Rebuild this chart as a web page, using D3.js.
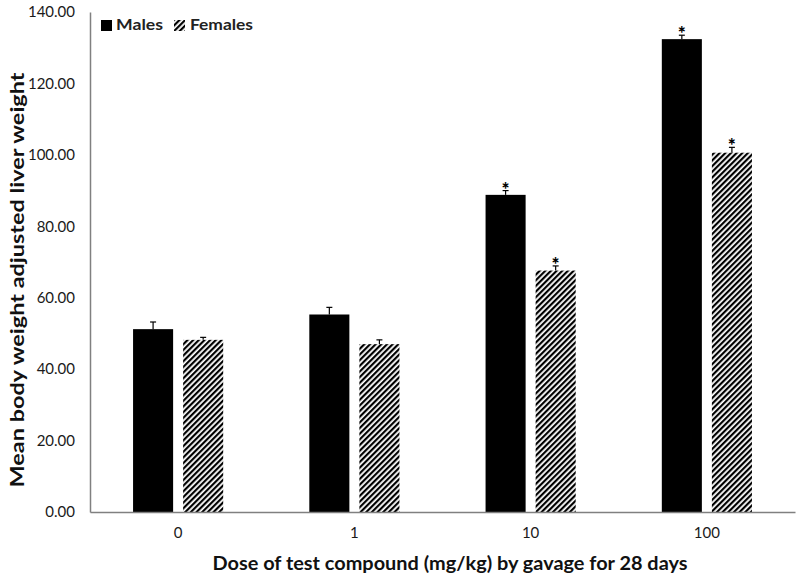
<!DOCTYPE html>
<html><head><meta charset="utf-8">
<script src="https://cdn.jsdelivr.net/npm/d3@7"></script>
<style>body{margin:0;background:#fff}</style>
</head><body>
<svg id="c" width="800" height="578"></svg>
<script>
const doses = ["0","1","10","100"];
const males = [51.2, 55.3, 88.8, 132.4];
const females = [48.2, 47.0, 67.6, 100.6];
const malesErr = [2.0, 2.0, 1.2, 1.1];
const femalesErr = [0.7, 1.2, 1.3, 1.5];
const malesSig = [false, false, true, true];
const femalesSig = [false, false, true, true];
const yTicks = [0,20,40,60,80,100,120,140];
const seriesNames = ["Males","Females"];

const svg = d3.select("#c");
const font = "Lato, 'Open Sans', sans-serif";
const mLeft = 90, mRight = 795, mTop = 12, mBottom = 512;

const defs = svg.append("defs");
const pat = defs.append("pattern").attr("id","hatch").attr("patternUnits","userSpaceOnUse")
  .attr("width",4).attr("height",6).attr("patternTransform","rotate(45)");
pat.append("rect").attr("width",4).attr("height",6).attr("fill","#fff");
pat.append("rect").attr("x",0).attr("width",2.2).attr("height",6).attr("fill","#000");

const x = d3.scaleBand().domain(doses).range([mLeft,mRight]).paddingInner(0).paddingOuter(0);
const x1 = d3.scaleBand().domain(seriesNames).range([0,x.bandwidth()]).paddingInner(0.2).paddingOuter(0.86);
const y = d3.scaleLinear().domain([0,140]).range([mBottom,mTop]);

const data = doses.map((d,i)=>[
  {dose:d, s:"Males", v:males[i], e:malesErr[i], sig:malesSig[i]},
  {dose:d, s:"Females", v:females[i], e:femalesErr[i], sig:femalesSig[i]}
]).flat();

svg.selectAll("rect.bar").data(data).enter().append("rect").attr("class","bar")
  .attr("x",d=>x(d.dose)+x1(d.s)).attr("width",x1.bandwidth())
  .attr("y",d=>y(d.v)).attr("height",d=>y(0)-y(d.v))
  .attr("fill",d=>d.s==="Males"?"#000":"url(#hatch)");

// error bars
const cx = d=>x(d.dose)+x1(d.s)+x1.bandwidth()/2;
const eb = svg.selectAll("g.eb").data(data).enter().append("g");
eb.append("line").attr("x1",cx).attr("x2",cx)
  .attr("y1",d=>y(d.v)).attr("y2",d=>y(d.v+d.e)).attr("stroke","#000").attr("stroke-width",1.2);
eb.append("line").attr("x1",d=>cx(d)-3).attr("x2",d=>cx(d)+3)
  .attr("y1",d=>y(d.v+d.e)).attr("y2",d=>y(d.v+d.e)).attr("stroke","#000").attr("stroke-width",1.2);
svg.selectAll("text.sig").data(data.filter(d=>d.sig)).enter().append("text")
  .attr("x",cx).attr("y",d=>y(d.v+d.e)+5)
  .attr("text-anchor","middle").attr("font-family",font).attr("font-size",19).attr("font-weight","900")
  .text("*");

// axes
const yAxis = d3.axisLeft(y).tickValues(yTicks).tickSize(0).tickPadding(15).tickFormat(d3.format(".2f"));
const gy = svg.append("g").attr("transform",`translate(${mLeft},0)`).call(yAxis);
gy.select(".domain").attr("stroke","#808080").attr("stroke-width",1.5);
gy.selectAll("text").attr("font-family",font).attr("font-size",15).attr("fill","#1a1a1a");

const xAxis = d3.axisBottom(x).tickSize(0).tickPadding(15);
const gx = svg.append("g").attr("transform",`translate(0,${mBottom})`).call(xAxis);
gx.select(".domain").attr("stroke","#808080").attr("stroke-width",1.5);
gx.selectAll("text").attr("font-family",font).attr("font-size",15).attr("fill","#1a1a1a");

// titles
svg.append("text").attr("transform",`translate(24,280) rotate(-90)`).attr("text-anchor","middle")
  .attr("font-family",font).attr("font-size",19).attr("font-weight","bold").attr("fill","#111")
  .attr("textLength",415).attr("lengthAdjust","spacingAndGlyphs")
  .text("Mean body weight adjusted liver weight");
svg.append("text").attr("x",450).attr("y",570).attr("text-anchor","middle")
  .attr("font-family",font).attr("font-size",18).attr("font-weight","bold").attr("fill","#111")
  .attr("textLength",475).attr("lengthAdjust","spacingAndGlyphs")
  .text("Dose of test compound (mg/kg)  by gavage for 28 days");

// legend
const lg = svg.append("g");
lg.append("rect").attr("x",101).attr("y",20).attr("width",11).attr("height",11).attr("fill","#000");
lg.append("text").attr("x",116).attr("y",30).attr("font-family",font).attr("font-size",15).attr("font-weight","bold").attr("fill","#222")
  .attr("textLength",47).attr("lengthAdjust","spacingAndGlyphs").text(seriesNames[0]);
lg.append("rect").attr("x",174).attr("y",20).attr("width",11).attr("height",11).attr("fill","url(#hatch)");
lg.append("text").attr("x",190).attr("y",30).attr("font-family",font).attr("font-size",15).attr("font-weight","bold").attr("fill","#222")
  .attr("textLength",63).attr("lengthAdjust","spacingAndGlyphs").text(seriesNames[1]);
</script>
</body></html>
